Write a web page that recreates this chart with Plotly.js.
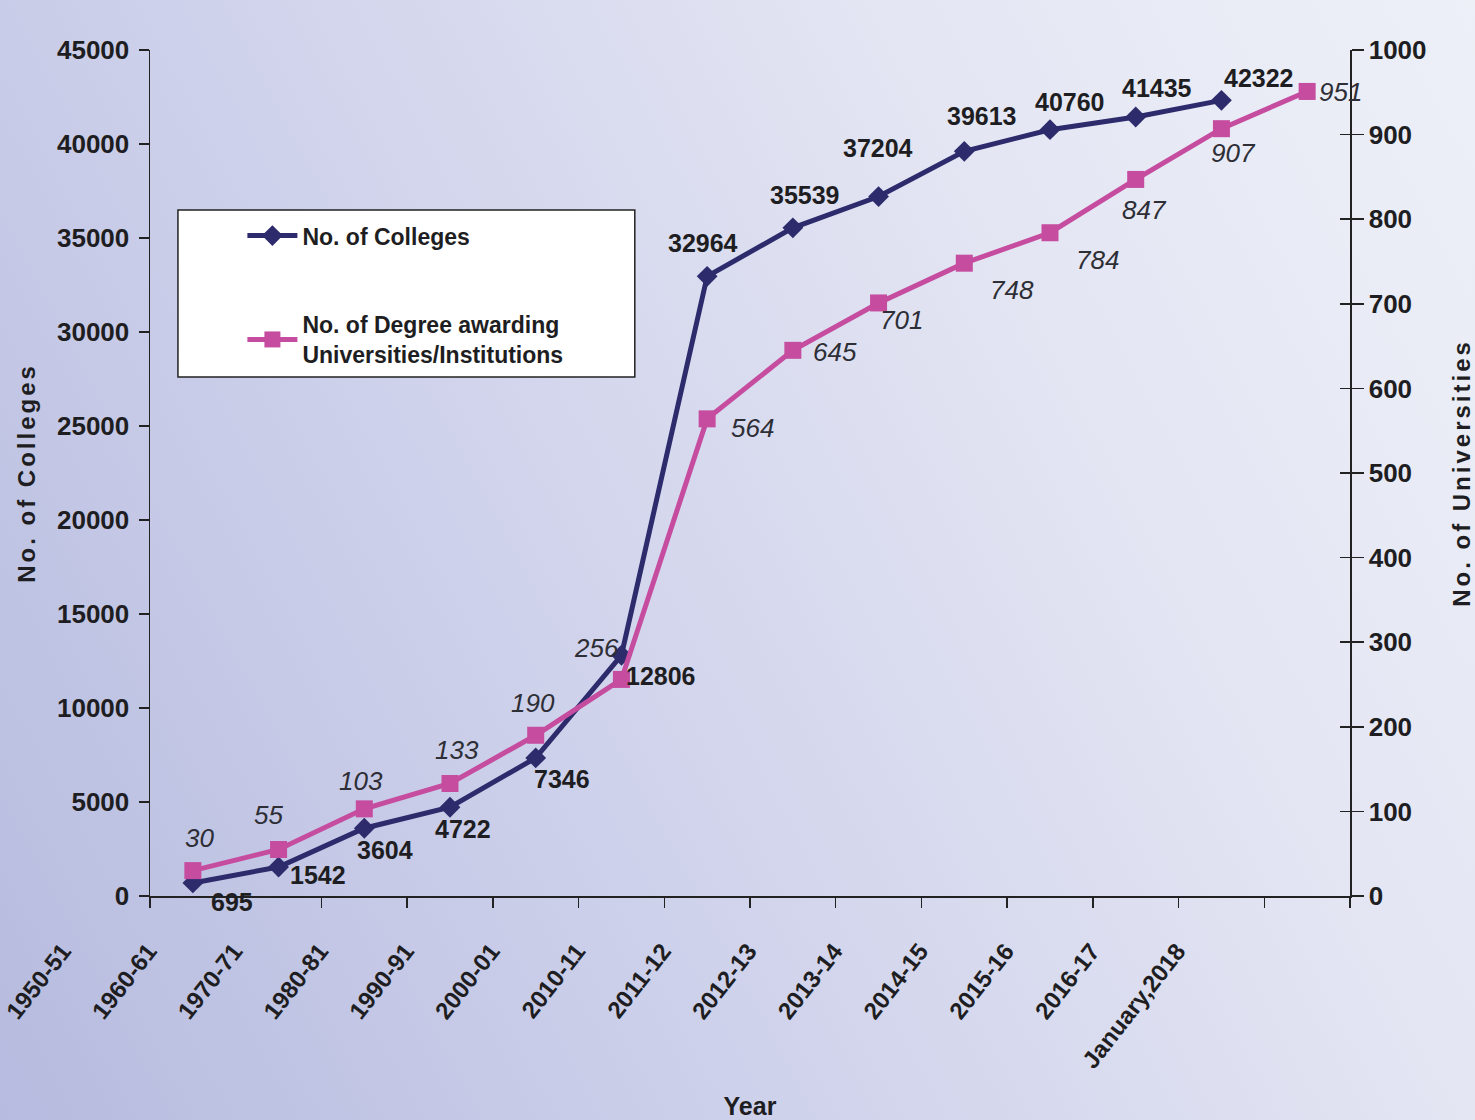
<!DOCTYPE html>
<html>
<head>
<meta charset="utf-8">
<script src="https://cdn.plot.ly/plotly-3.0.1.min.js"></script>
<style>
  html, body { margin: 0; padding: 0; }
  body {
    width: 1475px; height: 1120px; overflow: hidden;
    background: linear-gradient(62deg, #b6bbdf 0%, #cdd0ea 35%, #e3e5f3 70%, #eef0f8 100%);
  }
  #chart { width: 1475px; height: 1120px; }
  .ytitle, .y2title { letter-spacing: 3px; }
</style>
</head>
<body>
<div id="chart"></div>
<script>
// ---- data ----
const years = ["1950-51","1960-61","1970-71","1980-81","1990-91","2000-01","2010-11",
               "2011-12","2012-13","2013-14","2014-15","2015-16","2016-17","January,2018"];
const collegeYears = years.slice(0, 13);
const colleges = [695, 1542, 3604, 4722, 7346, 12806, 32964, 35539, 37204, 39613, 40760, 41435, 42322];
const universities = [30, 55, 103, 133, 190, 256, 564, 645, 701, 748, 784, 847, 907, 951];
const collegeTicks = [0, 5000, 10000, 15000, 20000, 25000, 30000, 35000, 40000, 45000];
const univTicks = [0, 100, 200, 300, 400, 500, 600, 700, 800, 900, 1000];

// ---- label placement (pixel offsets from each point) ----
const collegeLabelShift = [[39,-19],[39,-8],[21,-22],[13,-22],[26,-21],[40,-21],[-4,33],
                           [12,33],[-1,49],[18,35],[20,28],[21,29],[38,22]];
const univLabelShift = [[7,33],[-10,34],[-3,28],[7,33],[-3,32],[-25,31],[45,-9],
                        [42,-2],[23,-17],[48,-27],[47,-27],[9,-31],[12,-24],[33,-1]];

const NAVY = "#2d2b6c";
const PINK = "#c54c9f";
const INK = "#1e1e22";
const FONT = "'Liberation Sans Narrow', 'Arial Narrow', 'Liberation Sans', Arial, sans-serif";
const FONT_PLAIN = "'Liberation Sans', Arial, sans-serif";

const traces = [
  {
    x: collegeYears, y: colleges, name: "No. of Colleges",
    type: "scatter", mode: "lines+markers", yaxis: "y", legendgroup: "a",
    line: { color: NAVY, width: 5 },
    marker: { symbol: "diamond", size: 16, color: NAVY }
  },
  {
    x: years, y: universities, name: "No. of Degree awarding<br>Universities/Institutions",
    type: "scatter", mode: "lines+markers", yaxis: "y2", legendgroup: "b",
    line: { color: PINK, width: 5 },
    marker: { symbol: "square", size: 17, color: PINK }
  }
];

const annotations = [];
colleges.forEach((v, i) => annotations.push({
  x: collegeYears[i], y: v, xref: "x", yref: "y", text: String(v),
  showarrow: false, xshift: collegeLabelShift[i][0], yshift: collegeLabelShift[i][1],
  font: { family: FONT, size: 25, color: INK, weight: "bold" }
}));
universities.forEach((v, i) => annotations.push({
  x: years[i], y: v, xref: "x", yref: "y2", text: String(v),
  showarrow: false, xshift: univLabelShift[i][0], yshift: univLabelShift[i][1],
  font: { family: FONT_PLAIN, size: 26, color: "#2e2e36", style: "italic", weight: "normal" }
}));

const layout = {
  width: 1475, height: 1120,
  paper_bgcolor: "rgba(0,0,0,0)", plot_bgcolor: "rgba(0,0,0,0)",
  margin: { l: 150, r: 125, t: 50, b: 224 },
  showlegend: true,
  legend: {
    x: 0.077, y: 0.806, xanchor: "left", yanchor: "top",
    bgcolor: "rgba(0,0,0,0)", borderwidth: 0,
    font: { family: FONT, size: 23, color: INK, weight: "bold" },
    traceorder: "grouped", tracegroupgap: 56, itemwidth: 50
  },
  xaxis: {
    type: "category", categoryorder: "array", categoryarray: years,
    range: [-0.5, 13.5],
    showline: true, linecolor: "#222", linewidth: 1.5,
    ticks: "outside", ticklen: 10, tickwidth: 1.5, tickcolor: "#222",
    tickson: "boundaries", tickangle: -52, ticklabelshift: -130, ticklabelstandoff: 30,
    tickfont: { family: FONT, size: 24, color: INK, weight: "bold" },
    showgrid: false, zeroline: false,
    title: { text: "Year", font: { family: FONT, size: 25, color: INK, weight: "bold" }, standoff: 30 }
  },
  yaxis: {
    range: [0, 45000], tickvals: collegeTicks, ticktext: collegeTicks.map(String),
    showline: true, linecolor: "#222", linewidth: 1.5,
    ticks: "outside", ticklen: 10, tickwidth: 1.5, tickcolor: "#222",
    ticklabelstandoff: 4,
    tickfont: { family: FONT, size: 26, color: INK, weight: "bold" },
    showgrid: false, zeroline: false,
    title: { text: "No. of Colleges", font: { family: FONT, size: 24, color: INK, weight: "bold" }, standoff: 14 }
  },
  yaxis2: {
    range: [0, 1000], tickvals: univTicks, ticktext: univTicks.map(String),
    overlaying: "y", side: "right",
    showline: true, linecolor: "#222", linewidth: 1.5,
    ticks: "outside", ticklen: 12, tickwidth: 1.5, tickcolor: "#222",
    tickfont: { family: FONT, size: 26, color: INK, weight: "bold" },
    showgrid: false, zeroline: false,
    title: { text: "No. of Universities", font: { family: FONT, size: 24, color: INK, weight: "bold" }, standoff: 28 }
  },
  yaxis3: {
    range: [0, 1000], tickvals: univTicks, overlaying: "y", side: "right",
    showline: false, showticklabels: false, showgrid: false, zeroline: false,
    ticks: "inside", ticklen: 10, tickwidth: 1.5, tickcolor: "#222"
  },
  shapes: [{
    type: "rect", xref: "paper", yref: "paper", layer: "below",
    x0: 0.0233, x1: 0.404, y0: 0.6135, y1: 0.811,
    fillcolor: "#ffffff", line: { color: "#222", width: 1.5 }
  }],
  annotations: annotations
};

traces.push({ x: [years[0]], y: [0], yaxis: "y3", type: "scatter", mode: "markers",
  marker: { opacity: 0 }, showlegend: false, hoverinfo: "skip" });

Plotly.newPlot("chart", traces, layout, { displayModeBar: false, staticPlot: true });
</script>
</body>
</html>
